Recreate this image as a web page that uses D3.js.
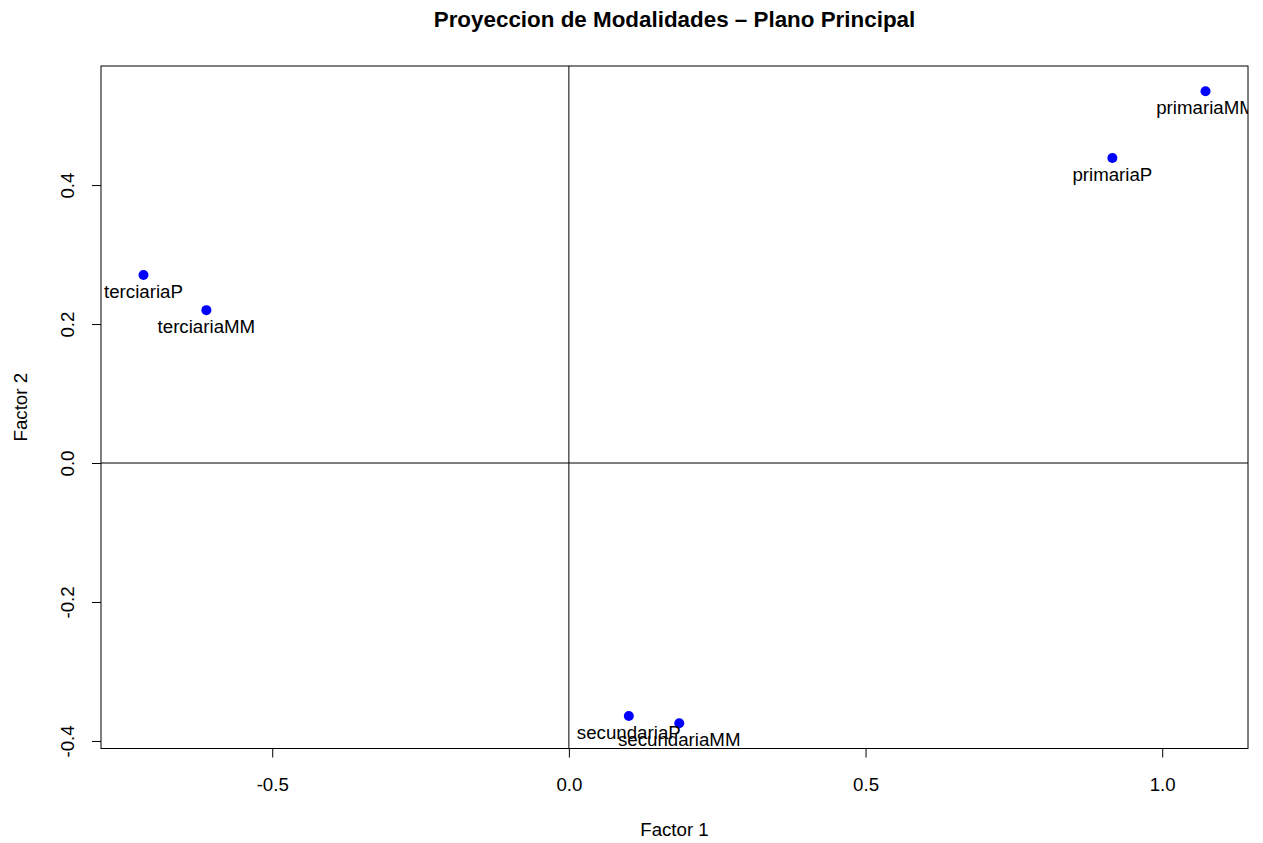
<!DOCTYPE html>
<html>
<head>
<meta charset="utf-8">
<script src="https://cdn.jsdelivr.net/npm/d3@7"></script>
<style>
  html, body { margin: 0; padding: 0; background: #fff; }
  svg { display: block; font-family: "Liberation Sans", Arial, Helvetica, sans-serif; }
</style>
</head>
<body>
<svg id="chart" width="1263" height="843"></svg>
<script>
// ---- data ----
const labels  = ["terciariaP", "terciariaMM", "secundariaP", "secundariaMM", "primariaP", "primariaMM"];
const factor1 = [-0.717, -0.611, 0.101, 0.186, 0.916, 1.073];
const factor2 = [0.2705, 0.220, -0.364, -0.3745, 0.439, 0.535];
const xTicks  = [-0.5, 0.0, 0.5, 1.0];
const yTicks  = [-0.4, -0.2, 0.0, 0.2, 0.4];
const title   = "Proyeccion de Modalidades \u2013 Plano Principal";
const xTitle  = "Factor 1";
const yTitle  = "Factor 2";

// ---- layout ----
const W = 1263, H = 843;
const plot = { left: 101, right: 1248, top: 66, bottom: 748.5 };

function padded(vals) {
  const [lo, hi] = d3.extent(vals);
  const p = (hi - lo) * 0.04;
  return [lo - p, hi + p];
}

const x = d3.scaleLinear().domain(padded(factor1)).range([plot.left, plot.right]);
const y = d3.scaleLinear().domain(padded(factor2)).range([plot.bottom, plot.top]);

const svg = d3.select("#chart");
const fmt = d3.format(".1f");
const fs = 18.7;

// clip
svg.append("defs").append("clipPath").attr("id", "clip")
  .append("rect")
  .attr("x", plot.left).attr("y", plot.top)
  .attr("width", plot.right - plot.left).attr("height", plot.bottom - plot.top);

// title
svg.append("text")
  .attr("x", (plot.left + plot.right) / 2)
  .attr("y", 27)
  .attr("text-anchor", "middle")
  .attr("font-weight", "bold")
  .attr("font-size", 22.4)
  .text(title);

// x axis
const xAxis = d3.axisBottom(x).tickValues(xTicks).tickFormat(d => fmt(d).replace("\u2212", "-")).tickSize(9).tickSizeOuter(0);
const gx = svg.append("g").attr("transform", `translate(0,${plot.bottom})`).call(xAxis);
gx.select(".domain").remove();
gx.selectAll(".tick line").attr("stroke", "#000");
gx.selectAll(".tick text").attr("font-size", fs).attr("font-family", null).attr("fill", "#000").attr("y", 0).attr("dy", null)
  .attr("transform", "translate(0,42)");

// y axis
const yAxis = d3.axisLeft(y).tickValues(yTicks).tickFormat(d => fmt(d).replace("\u2212", "-")).tickSize(9).tickSizeOuter(0);
const gy = svg.append("g").attr("transform", `translate(${plot.left},0)`).call(yAxis);
gy.select(".domain").remove();
gy.selectAll(".tick line").attr("stroke", "#000");
gy.selectAll(".tick text").attr("font-size", fs).attr("font-family", null).attr("fill", "#000")
  .attr("x", null).attr("dy", null)
  .attr("text-anchor", "middle")
  .attr("transform", "translate(-27,0) rotate(-90)")
  .attr("y", 0);

// axis titles
svg.append("text")
  .attr("x", (plot.left + plot.right) / 2)
  .attr("y", 836)
  .attr("text-anchor", "middle")
  .attr("font-size", fs)
  .text(xTitle);
svg.append("text")
  .attr("transform", `translate(27,${(plot.top + plot.bottom) / 2}) rotate(-90)`)
  .attr("text-anchor", "middle")
  .attr("font-size", fs)
  .text(yTitle);

// reference lines
const inner = svg.append("g").attr("clip-path", "url(#clip)");
inner.append("line")
  .attr("x1", plot.left).attr("x2", plot.right)
  .attr("y1", y(0)).attr("y2", y(0))
  .attr("stroke", "#000").attr("stroke-width", 1);
inner.append("line")
  .attr("x1", x(0)).attr("x2", x(0))
  .attr("y1", plot.top).attr("y2", plot.bottom)
  .attr("stroke", "#000").attr("stroke-width", 1);

// points
const pts = labels.map((l, i) => ({ label: l, f1: factor1[i], f2: factor2[i] }));
inner.selectAll("circle").data(pts).enter().append("circle")
  .attr("cx", d => x(d.f1)).attr("cy", d => y(d.f2))
  .attr("r", 5).attr("fill", "#0000ff");

inner.selectAll("text.lbl").data(pts).enter().append("text")
  .attr("class", "lbl")
  .attr("x", d => x(d.f1)).attr("y", d => y(d.f2) + 23)
  .attr("text-anchor", "middle")
  .attr("font-size", fs)
  .attr("fill", "#000")
  .text(d => d.label);

// box
svg.append("rect")
  .attr("x", plot.left).attr("y", plot.top)
  .attr("width", plot.right - plot.left).attr("height", plot.bottom - plot.top)
  .attr("fill", "none").attr("stroke", "#000").attr("stroke-width", 1);
</script>
</body>
</html>
